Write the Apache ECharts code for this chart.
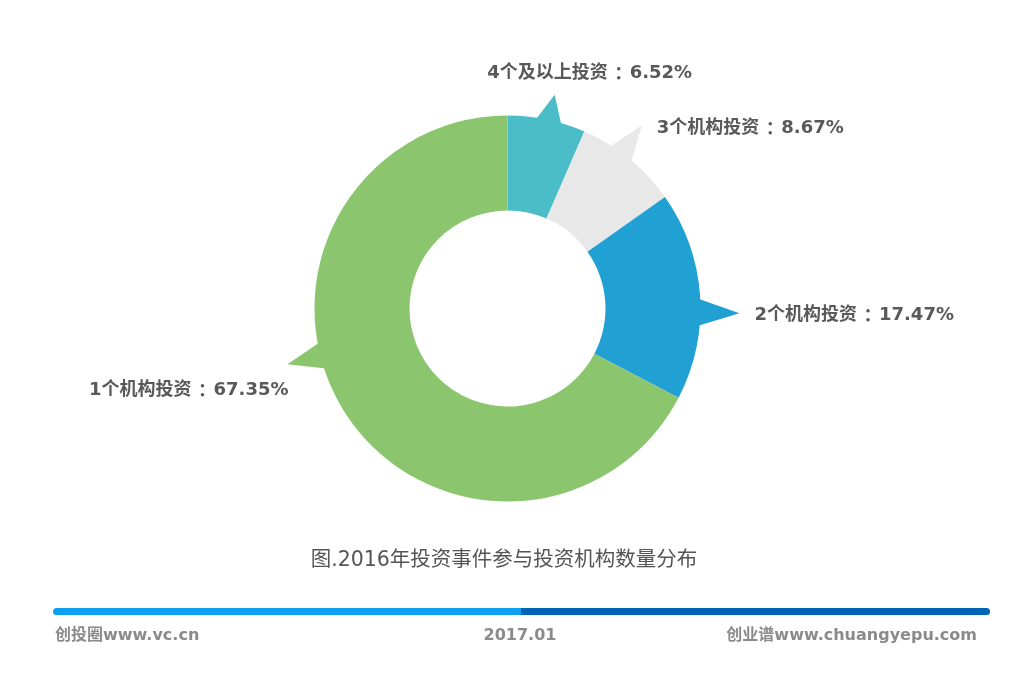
<!DOCTYPE html>
<html>
<head>
<meta charset="utf-8">
<script src="https://cdn.jsdelivr.net/npm/echarts@6/dist/echarts.min.js"></script>
<style>
html,body{margin:0;padding:0;background:#fff;}
#main{width:1024px;height:673px;}
</style>
</head>
<body>
<div id="main"></div>
<script>
// ---- data ----
const categories = ['4个及以上投资', '3个机构投资', '2个机构投资', '1个机构投资'];
const values = [6.52, 8.67, 17.47, 67.35];
const titleText = '图.2016年投资事件参与投资机构数量分布';
const footerLeft = '创投圈www.vc.cn';
const footerMid = '2017.01';
const footerRight = '创业谱www.chuangyepu.com';

// ---- style / layout ----
const colors = ['#4abdc9', '#e8e8e8', '#21a0d3', '#8bc56e'];
const center = [507.5, 308.5];
const rInner = 98, rOuter = 193;
const pointerFrac = [0.53, 0.41, 0.58, 0.57];   // where along each slice the callout points
const pointerLen = [26, 34, 39, 34];            // callout length beyond outer radius
const pointerHalf = 14.5;                        // callout base half width (px)
const labelPlace = [
  {dx: 35, dy: -21, align: 'center'},
  {dx: 15, dy: 3, align: 'left'},
  {dx: 15, dy: 2, align: 'left'},
  {dx: 1, dy: 26, align: 'right'}
];
const fontMix = 'DejaVu Sans, "Noto Sans CJK SC", sans-serif';

// compute callout angles from data
const total = values.reduce((a, b) => a + b, 0);
let acc = 0;
const tips = [];
const pointers = [];
function pt(angDeg, r) {
  const a = angDeg * Math.PI / 180;
  return [center[0] + r * Math.sin(a), center[1] - r * Math.cos(a)];
}
values.forEach((v, i) => {
  const a0 = acc / total * 360;
  acc += v;
  const a1 = acc / total * 360;
  const ang = a0 + (a1 - a0) * pointerFrac[i];
  const d = pointerHalf / rOuter * 180 / Math.PI;
  const tip = pt(ang, rOuter + pointerLen[i]);
  tips.push(tip);
  pointers.push({
    type: 'polygon',
    silent: true,
    z: 1,
    shape: {points: [pt(ang - d, rOuter - 4), tip, pt(ang + d, rOuter - 4)]},
    style: {fill: colors[i]}
  });
});

const labelBase = {fontSize: 18, fontWeight: 'bold', color: '#595959', fontFamily: fontMix};

const chart = echarts.init(document.getElementById('main'));
chart.setOption({
  backgroundColor: '#ffffff',
  animation: false,
  color: colors,
  series: [{
    type: 'pie',
    center: center,
    radius: [rInner, rOuter],
    startAngle: 90,
    clockwise: true,
    z: 2,
    itemStyle: {borderWidth: 0},
    emphasis: {disabled: true},
    label: Object.assign({
      show: true,
      position: 'outside',
      formatter: '{b}{colon|：}{c}%',
      rich: {
        colon: Object.assign({}, labelBase, {fontFamily: '"Noto Sans CJK TC", sans-serif', padding: [0, 2, 0, 2]})
      }
    }, labelBase),
    labelLine: {show: false},
    labelLayout: function (p) {
      const t = tips[p.dataIndex];
      const pl = labelPlace[p.dataIndex];
      return {x: t[0] + pl.dx, y: t[1] + pl.dy, align: pl.align, verticalAlign: 'middle'};
    },
    data: categories.map((c, i) => ({name: c, value: values[i]}))
  }],
  graphic: pointers.concat([
    {
      type: 'text', x: 504, y: 561, silent: true,
      style: {text: titleText, fill: '#555555', fontSize: 20.5, fontFamily: fontMix,
              textAlign: 'center', textVerticalAlign: 'middle'}
    },
    {
      type: 'rect', x: 53, y: 608, silent: true,
      shape: {width: 468, height: 7, r: [3.5, 0, 0, 3.5]},
      style: {fill: '#0c9ff0'}
    },
    {
      type: 'rect', x: 521, y: 608, silent: true,
      shape: {width: 469, height: 7, r: [0, 3.5, 3.5, 0]},
      style: {fill: '#0064b4'}
    },
    {
      type: 'text', x: 55, y: 636, silent: true,
      style: {text: footerLeft, fill: '#8a8a8a', fontSize: 16, fontWeight: 'bold', fontFamily: fontMix,
              textAlign: 'left', textVerticalAlign: 'middle'}
    },
    {
      type: 'text', x: 520, y: 636, silent: true,
      style: {text: footerMid, fill: '#8a8a8a', fontSize: 16, fontWeight: 'bold', fontFamily: fontMix,
              textAlign: 'center', textVerticalAlign: 'middle'}
    },
    {
      type: 'text', x: 977, y: 636, silent: true,
      style: {text: footerRight, fill: '#8a8a8a', fontSize: 16, fontWeight: 'bold', fontFamily: fontMix,
              textAlign: 'right', textVerticalAlign: 'middle'}
    }
  ])
});
</script>
</body>
</html>
